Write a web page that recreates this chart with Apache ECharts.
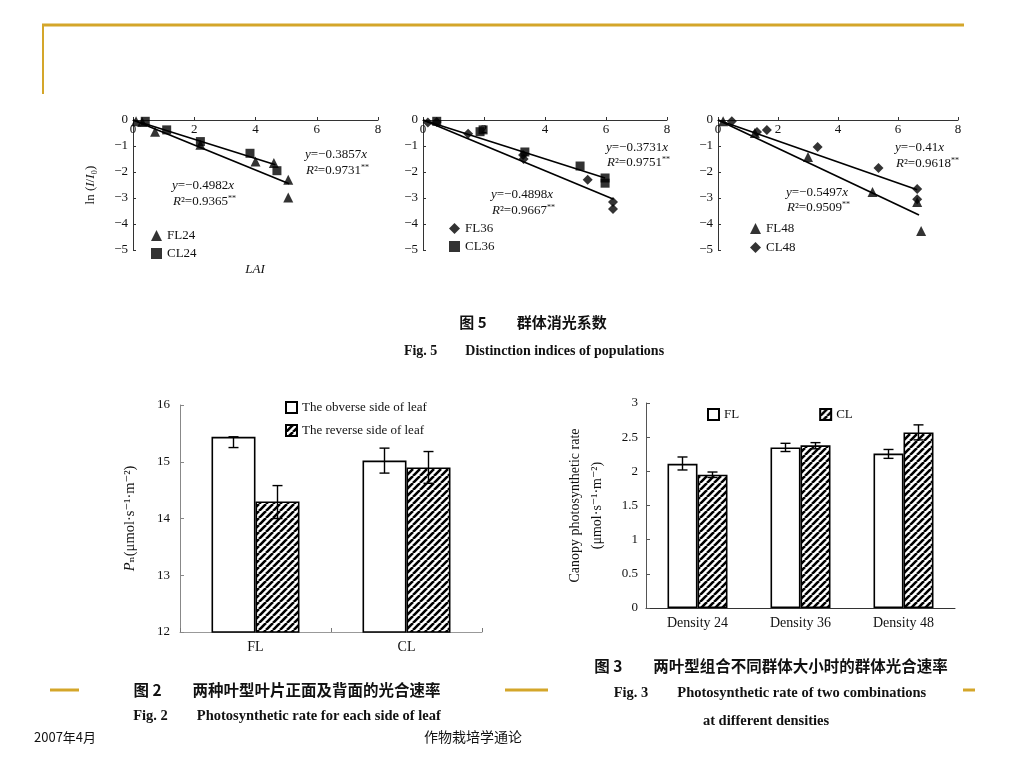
<!DOCTYPE html>
<html><head><meta charset="utf-8">
<script src="https://cdn.jsdelivr.net/npm/echarts@6/dist/echarts.min.js"></script>
<style>html,body{margin:0;padding:0;background:#fff}#c{width:1024px;height:768px}</style>
</head><body><div id="c"></div>
<script>
// ---------- Fig.5 data (LAI, ln(I/I0)) ----------
const fl24 = [[0.1,-0.05],[0.3,-0.08],[0.72,-0.45],[2.2,-0.95],[4.0,-1.6],[4.6,-1.65],[5.07,-2.3],[5.07,-2.98]];
const cl24 = [[0.4,-0.05],[1.1,-0.38],[2.2,-0.83],[3.82,-1.28],[4.7,-1.95]];
const fit24CL = [[0,0],[4.65,-1.72]];
const fit24FL = [[0,0],[5.1,-2.45]];
const fl36 = [[0.16,-0.1],[0.45,-0.08],[1.48,-0.53],[3.28,-1.35],[3.3,-1.5],[5.4,-2.3],[6.23,-3.15],[6.23,-3.42]];
const cl36 = [[0.45,-0.05],[1.87,-0.45],[1.97,-0.38],[3.34,-1.23],[5.15,-1.77],[5.97,-2.23],[5.97,-2.43]];
const fit36CL = [[0,0],[5.97,-2.23]];
const fit36FL = [[0,0],[6.25,-3.05]];
const fl48 = [[0.17,-0.05],[1.23,-0.5],[3.0,-1.42],[5.15,-2.77],[6.64,-3.15],[6.77,-4.27]];
const cl48 = [[0.46,-0.05],[1.3,-0.46],[1.63,-0.38],[3.32,-1.04],[5.35,-1.85],[6.64,-2.65],[6.64,-3.05]];
const fit48CL = [[0,0],[6.64,-2.68]];
const fit48FL = [[0,0],[6.7,-3.65]];

// ---------- Fig.2 data ----------
const cat2 = ['FL','CL'];
const obverse2 = [15.44, 15.02];
const reverse2 = [14.30, 14.90];
const obverseErr2 = [[15.25,15.44],[14.80,15.24]];
const reverseErr2 = [[14.00,14.58],[14.62,15.18]];

// ---------- Fig.3 data ----------
const cat3 = ['Density 24','Density 36','Density 48'];
const fl3 = [2.11, 2.35, 2.26];
const cl3 = [1.95, 2.38, 2.57];
const fl3Err = [[2.02,2.21],[2.29,2.41],[2.19,2.32]];
const cl3Err = [[1.91,1.99],[2.33,2.42],[2.46,2.68]];

const SERIF = '"Liberation Serif","DejaVu Serif",serif';
const CJK = '"Noto Sans CJK SC","Liberation Serif",sans-serif';
const GOLD = '#D4A62A';

function hatch(){
  const s = 7, c = document.createElement('canvas'); c.width = s; c.height = s;
  const g = c.getContext('2d'); g.fillStyle = '#fff'; g.fillRect(0,0,s,s);
  g.strokeStyle = '#000'; g.lineWidth = 2.6; g.beginPath();
  for (let k = -s; k <= s; k += s) { g.moveTo(k, s); g.lineTo(k + s, 0); }
  g.stroke(); return c;
}
const HATCH = {image: hatch(), repeat: 'repeat'};

const grids = [
  {left:133, top:120, width:245, height:130},
  {left:423, top:120, width:244, height:130},
  {left:718, top:120, width:240, height:130},
  {left:180, top:405, width:302, height:227},
  {left:646, top:403, width:309, height:205}
];

function sx(gi){ return {type:'value', gridIndex:gi, position:'top', min:0, max:8, interval:2,
  axisLine:{show:true, onZero:false, lineStyle:{color:'#333', width:1}},
  axisTick:{show:true, length:3, lineStyle:{color:'#333'}},
  axisLabel:{inside:true, margin:3, color:'#111', fontFamily:SERIF, fontSize:13},
  splitLine:{show:false}}; }
function sy(gi, name){ return {type:'value', gridIndex:gi, min:-5, max:0, interval:1,
  name: name || '', nameLocation:'middle', nameRotate:90, nameGap:36,
  nameTextStyle:{fontFamily:SERIF, fontSize:13, color:'#111', rich:{i:{fontStyle:'italic', fontFamily:SERIF, fontSize:13}}},
  axisLine:{show:true, onZero:false, lineStyle:{color:'#333', width:1}},
  axisTick:{show:true, inside:true, length:3, lineStyle:{color:'#333'}},
  axisLabel:{margin:5, color:'#111', fontFamily:SERIF, fontSize:13, formatter:v=> v<0 ? '\u2212'+(-v) : String(v)},
  splitLine:{show:false}}; }

function scat(name, data, gi, sym, size){ return {name, type:'scatter', xAxisIndex:gi, yAxisIndex:gi, data,
  symbol:sym, symbolSize:size, itemStyle:{color:'#000'}, z:3}; }
function fit(data, gi){ return {type:'line', xAxisIndex:gi, yAxisIndex:gi, data, symbol:'none', silent:true,
  lineStyle:{color:'#000', width:1.7}, z:2}; }

function errSeries(gi, errs, side, bw){
  return {type:'custom', xAxisIndex:gi, yAxisIndex:gi, z:5, silent:true,
    data: errs.map((e,i)=>[i, e[0], e[1]]),
    renderItem:(params, api)=>{
      const lo = api.coord([api.value(0), api.value(1)]);
      const hi = api.coord([api.value(0), api.value(2)]);
      const cx = lo[0] + side*bw/2, cap = 5;
      const st = {stroke:'#000', lineWidth:1.4};
      return {type:'group', children:[
        {type:'line', shape:{x1:cx, y1:lo[1], x2:cx, y2:hi[1]}, style:st},
        {type:'line', shape:{x1:cx-cap, y1:hi[1], x2:cx+cap, y2:hi[1]}, style:st},
        {type:'line', shape:{x1:cx-cap, y1:lo[1], x2:cx+cap, y2:lo[1]}, style:st}
      ]};
    }};
}

const eqRich = {i:{fontStyle:'italic', fontFamily:SERIF, fontSize:13}, s:{fontFamily:SERIF, fontSize:8, verticalAlign:'top', padding:[0,0,6,0]}};
function eq(x, y, t){ return {type:'text', x, y, style:{text:t, fontFamily:SERIF, fontSize:13, fill:'#111', rich:eqRich, verticalAlign:'middle'}}; }
function cap(x, y, t, font, size, bold){ return {type:'text', x, y, style:{text:t, fontFamily:font, fontSize:size, fontWeight:bold?'bold':'normal', fill:'#111', align:'center', verticalAlign:'middle'}}; }

const legendText = {fontFamily:SERIF, fontSize:13, color:'#111'};

const option = {
  backgroundColor:'#fff',
  animation:false,
  grid: grids,
  xAxis: [sx(0), sx(1), sx(2),
    {type:'category', gridIndex:3, data:cat2,
      axisLine:{show:true, lineStyle:{color:'#999'}}, axisTick:{show:true, inside:true, length:4, lineStyle:{color:'#777'}},
      axisLabel:{color:'#111', fontFamily:SERIF, fontSize:14, margin:8}},
    {type:'category', gridIndex:4, data:cat3,
      axisLine:{show:true, lineStyle:{color:'#333'}}, axisTick:{show:false},
      axisLabel:{color:'#111', fontFamily:SERIF, fontSize:14, margin:8}}
  ],
  yAxis: [sy(0, 'ln ({i|I}/{i|I}\u2080)'), sy(1), sy(2),
    {type:'value', gridIndex:3, min:12, max:16, interval:1,
      name:'{i|P}\u2099(\u03bcmol\u00b7s\u207b\u00b9\u00b7m\u207b\u00b2)', nameLocation:'middle', nameRotate:90, nameGap:42,
      nameTextStyle:{fontFamily:SERIF, fontSize:14.5, color:'#111', rich:{i:{fontStyle:'italic', fontFamily:SERIF, fontSize:14.5}}},
      axisLine:{show:true, lineStyle:{color:'#888'}}, axisTick:{show:true, inside:true, length:4, lineStyle:{color:'#888'}},
      axisLabel:{color:'#111', fontFamily:SERIF, fontSize:13, margin:10}, splitLine:{show:false}},
    {type:'value', gridIndex:4, min:0, max:3, interval:0.5,
      name:'Canopy photosynthetic rate\n(\u03bcmol\u00b7s\u207b\u00b9\u00b7m\u207b\u00b2)', nameLocation:'middle', nameRotate:90, nameGap:38,
      nameTextStyle:{fontFamily:SERIF, fontSize:14, color:'#111', lineHeight:22},
      axisLine:{show:true, lineStyle:{color:'#555'}}, axisTick:{show:true, inside:true, length:4, lineStyle:{color:'#555'}},
      axisLabel:{color:'#111', fontFamily:SERIF, fontSize:13, margin:8}, splitLine:{show:false}}
  ],
  legend: [
    {left:146, top:224, orient:'vertical', itemWidth:11, itemHeight:11, itemGap:5, data:['FL24','CL24'], textStyle:legendText},
    {left:444, top:217, orient:'vertical', itemWidth:11, itemHeight:11, itemGap:5, data:['FL36','CL36'], textStyle:legendText},
    {left:745, top:217, orient:'vertical', itemWidth:11, itemHeight:11, itemGap:6, data:['FL48','CL48'], textStyle:legendText},
    {left:280, top:396, orient:'vertical', icon:'rect', itemWidth:11, itemHeight:11, itemGap:10, data:['The obverse side of leaf','The reverse side of leaf'], textStyle:legendText},
    {left:702, top:403, orient:'horizontal', icon:'rect', itemWidth:11, itemHeight:11, itemGap:80, data:['FL','CL'], textStyle:legendText}
  ],
  series: [
    fit(fit24CL,0), fit(fit24FL,0),
    scat('FL24', fl24, 0, 'triangle', 10), scat('CL24', cl24, 0, 'rect', 9),
    fit(fit36CL,1), fit(fit36FL,1),
    scat('FL36', fl36, 1, 'diamond', 10), scat('CL36', cl36, 1, 'rect', 9),
    fit(fit48CL,2), fit(fit48FL,2),
    scat('FL48', fl48, 2, 'triangle', 10), scat('CL48', cl48, 2, 'diamond', 10),
    {name:'The obverse side of leaf', type:'bar', xAxisIndex:3, yAxisIndex:3, data:obverse2, barWidth:44, barGap:'0%',
      itemStyle:{color:'#fff', borderColor:'#000', borderWidth:1.6}},
    {name:'The reverse side of leaf', type:'bar', xAxisIndex:3, yAxisIndex:3, data:reverse2, barWidth:44, barGap:'0%',
      itemStyle:{color:HATCH, borderColor:'#000', borderWidth:1.6}},
    errSeries(3, obverseErr2, -1, 44), errSeries(3, reverseErr2, 1, 44),
    {name:'FL', type:'bar', xAxisIndex:4, yAxisIndex:4, data:fl3, barWidth:30, barGap:'0%',
      itemStyle:{color:'#fff', borderColor:'#000', borderWidth:1.6}},
    {name:'CL', type:'bar', xAxisIndex:4, yAxisIndex:4, data:cl3, barWidth:30, barGap:'0%',
      itemStyle:{color:HATCH, borderColor:'#000', borderWidth:1.6}},
    errSeries(4, fl3Err, -1, 30), errSeries(4, cl3Err, 1, 30)
  ],
  graphic: [
    {type:'line', shape:{x1:42, y1:25, x2:964, y2:25}, style:{stroke:GOLD, lineWidth:3}},
    {type:'line', shape:{x1:43, y1:25, x2:43, y2:94}, style:{stroke:GOLD, lineWidth:2}},
    {type:'line', shape:{x1:50, y1:690, x2:79, y2:690}, style:{stroke:GOLD, lineWidth:3}},
    {type:'line', shape:{x1:505, y1:690, x2:548, y2:690}, style:{stroke:GOLD, lineWidth:3}},
    {type:'line', shape:{x1:963, y1:690, x2:975, y2:690}, style:{stroke:GOLD, lineWidth:3}},
    eq(305, 155, '{i|y}=\u22120.3857{i|x}'), eq(306, 171, '{i|R}\u00b2=0.9731{s|**}'),
    eq(172, 186, '{i|y}=\u22120.4982{i|x}'), eq(173, 202, '{i|R}\u00b2=0.9365{s|**}'),
    eq(606, 148, '{i|y}=\u22120.3731{i|x}'), eq(607, 163, '{i|R}\u00b2=0.9751{s|**}'),
    eq(491, 195, '{i|y}=\u22120.4898{i|x}'), eq(492, 211, '{i|R}\u00b2=0.9667{s|**}'),
    eq(895, 148, '{i|y}=\u22120.41{i|x}'), eq(896, 164, '{i|R}\u00b2=0.9618{s|**}'),
    eq(786, 193, '{i|y}=\u22120.5497{i|x}'), eq(787, 208, '{i|R}\u00b2=0.9509{s|**}'),
    {type:'text', x:255, y:270, style:{text:'LAI', fontFamily:SERIF, fontStyle:'italic', fontSize:13, fill:'#111', align:'center', verticalAlign:'middle'}},
    cap(533, 322, '图 5\u3000\u3000群体消光系数', CJK, 15, true),
    cap(534, 351, 'Fig. 5\u2003\u2003Distinction indices of populations', SERIF, 14, true),
    cap(287, 690, '图 2\u3000\u3000两种叶型叶片正面及背面的光合速率', CJK, 15.5, true),
    cap(287, 716, 'Fig. 2\u2003\u2003Photosynthetic rate for each side of leaf', SERIF, 14.5, true),
    cap(771, 666, '图 3\u3000\u3000两叶型组合不同群体大小时的群体光合速率', CJK, 15.5, true),
    cap(770, 693, 'Fig. 3\u2003\u2003Photosynthetic rate of two combinations', SERIF, 14.5, true),
    cap(766, 721, 'at different densities', SERIF, 14.5, true),
    {type:'text', x:34, y:737, style:{text:'2007年4月', fontFamily:CJK, fontSize:13, fill:'#111', verticalAlign:'middle'}},
    {type:'text', x:424, y:737, style:{text:'作物栽培学通论', fontFamily:CJK, fontSize:14, fill:'#111', verticalAlign:'middle'}}
  ]
};
const chart = echarts.init(document.getElementById('c'), null, {renderer:'canvas'});
chart.setOption(option);
</script>
</body></html>
